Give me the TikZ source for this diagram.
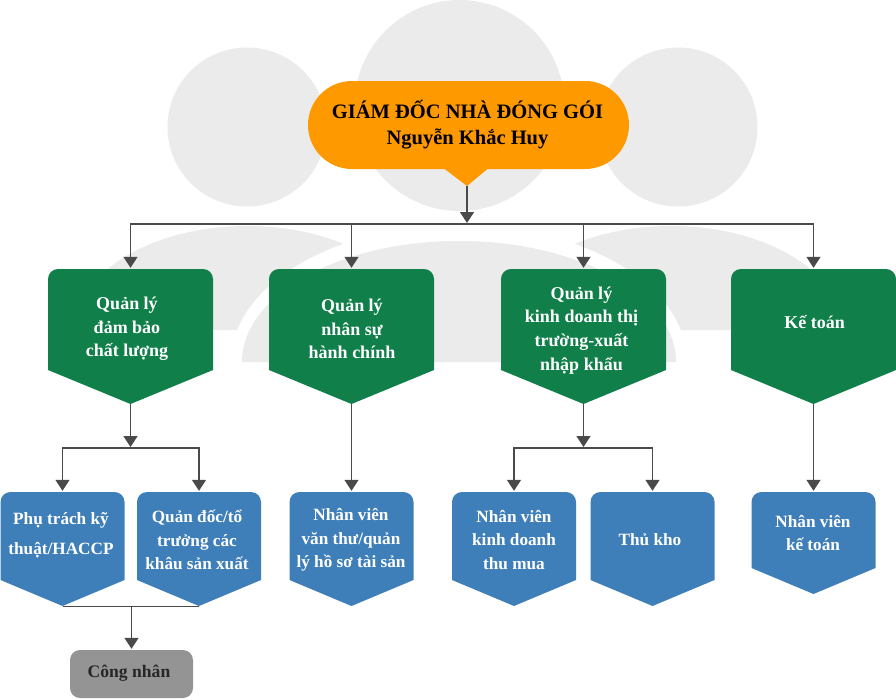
\documentclass[tikz,border=0pt]{standalone}
\usepackage{fontspec}
\setmainfont{Liberation Serif}
\usetikzlibrary{positioning, arrows.meta}

\definecolor{bossorange}{HTML}{FF9900}
\definecolor{deptgreen}{HTML}{107F4A}
\definecolor{staffblue}{HTML}{3F7FB9}
\definecolor{workergray}{HTML}{949494}
\definecolor{shadegray}{HTML}{EBEBEB}
\definecolor{linkgray}{HTML}{4A4A4A}

\tikzset{
    tag/.style n args={3}{rectangle, inner sep=0pt, minimum width=#2, minimum height=#3,
        path picture={
            \fill[#1, rounded corners=10pt]
            ([yshift=\shoulder]path picture bounding box.south west)
            -- (path picture bounding box.north west)
            -- (path picture bounding box.north east) [sharp corners]
            -- ([yshift=\shoulder]path picture bounding box.south east)
            -- (path picture bounding box.south) -- cycle;
        }},
    dept/.style={tag={deptgreen}{165pt}{135pt}},
    staff/.style={tag={staffblue}{124pt}{#1}},
    staff/.default=114pt,
    depttext/.style={align=center, text=white, font=\fontsize{18}{23.7}\selectfont\bfseries},
    stafftext/.style={align=center, text=white, font=\fontsize{17.2}{23.5}\selectfont\bfseries},
    link/.style={draw=linkgray, line width=1.4pt, -{Triangle[width=14pt,length=11pt]}, shorten >=1pt},
    bus/.style={draw=linkgray, line width=1.4pt},
}
\newcommand{\shoulder}{34pt}

\begin{document}
\begin{tikzpicture}[x=1pt,y=-1pt]
    \useasboundingbox (0,0) rectangle (896,699);

    % people in the background
    \fill[shadegray] (247,127) circle (79.5);
    \fill[shadegray] (678,127) circle (79.5);
    \fill[shadegray] (459.5,105.5) ellipse (105 and 105.5);
    \fill[shadegray] (75,330) arc (180:360:172 and 104) -- cycle;
    \fill[shadegray] (499,330) arc (180:360:172 and 104) -- cycle;
    \fill[white] (231,362) arc (180:360:228 and 137) -- cycle;
    \fill[shadegray] (242,362) arc (180:360:217 and 121) -- cycle;

    % top box
    \node[rectangle, inner sep=0pt, minimum width=321pt, minimum height=105pt,
        path picture={
            \fill[bossorange, rounded corners=44pt]
            (path picture bounding box.north west)
            -- (path picture bounding box.north east)
            -- ([yshift=17pt]path picture bounding box.south east)
            -- ([yshift=17pt]path picture bounding box.south west) -- cycle;
            \fill[bossorange] ([xshift=-24.5pt,yshift=17.5pt]path picture bounding box.south)
            -- ([xshift=-1.5pt]path picture bounding box.south)
            -- ([xshift=19.5pt,yshift=17.5pt]path picture bounding box.south) -- cycle;
        }] (boss) at (468.5,133.5) {};
    \node[align=center, font=\fontsize{20.5}{26}\selectfont\bfseries] (bosstext) at (467.5,124.5)
        {GIÁM ĐỐC NHÀ ĐÓNG GÓI\\Nguyễn Khắc Huy};

    % departments
    \node[dept] (quality) at (130.5,336.5) {};
    \node[dept] (hr) at (351.5,336.5) {};
    \node[dept] (sales) at (583.5,336.5) {};
    \node[dept] (account) at (813.5,336.5) {};
    \node[depttext] (qualitytext) at (127,329) {Quản lý\\đảm bảo\\chất lượng};
    \node[depttext] (hrtext) at (352,329) {Quản lý\\nhân sự\\hành chính};
    \node[depttext] (salestext) at (581.5,330.5) {Quản lý\\kinh doanh thị\\trường-xuất\\nhập khẩu};
    \node[depttext] (accounttext) at (814.5,322.5) {Kế toán};

    % staff
    \renewcommand{\shoulder}{26pt}
    \node[staff] (tech) at (62.5,549) {};
    \node[staff] (foreman) at (199,549) {};
    \node[staff] (clerk) at (351.5,549) {};
    \node[staff] (buyer) at (514,549) {};
    \node[staff] (store) at (652.5,549) {};
    \node[staff=102pt] (bookkeeper) at (813.5,543) {};
    \node[stafftext, font=\fontsize{17.2}{30}\selectfont\bfseries] (techtext) at (61,535) {Phụ trách kỹ\\thuật/HACCP};
    \node[stafftext] (foremantext) at (197,540) {Quản đốc/tổ\\trưởng các\\khâu sản xuất};
    \node[stafftext] (clerktext) at (351,540) {Nhân viên\\văn thư/quản\\lý hồ sơ tài sản};
    \node[stafftext] (buyertext) at (514,540) {Nhân viên\\kinh doanh\\thu mua};
    \node[stafftext] (storetext) at (650,539.5) {Thủ kho};
    \node[stafftext] (bookkeepertext) at (813,533) {Nhân viên\\kế toán};

    % workers
    \node[rectangle, rounded corners=10pt, fill=workergray, inner sep=0pt,
        minimum width=123pt, minimum height=48pt] (worker) at (131.5,674) {};
    \node[text=black!85, font=\fontsize{17.6}{20}\selectfont\bfseries] (workertext) at (129,673.5) {Công nhân};

    % junctions
    \coordinate (bosstip) at (467,186);
    \coordinate (topbus) at (467,224);
    \coordinate (qualityfork) at (130.5,448);
    \coordinate (salesfork) at (583.5,448);
    \coordinate (workerfork) at (131.5,606);

    \path
    (bosstip) edge[link] (topbus)
    (quality.south) edge[link] (qualityfork)
    (sales.south) edge[link] (salesfork)
    (hr.south) edge[link] (clerk.north)
    (account.south) edge[link] (bookkeeper.north)
    (workerfork) edge[link] (worker.north)
    ;
    \draw[bus] (quality.north |- topbus) -- (account.north |- topbus);
    \draw[bus] (tech.south) -- (foreman.south);
    \draw[link] (topbus) -| (quality.north);
    \draw[link] (topbus) -| (hr.north);
    \draw[link] (topbus) -| (sales.north);
    \draw[link] (topbus) -| (account.north);
    \draw[link] (qualityfork) -| (tech.north);
    \draw[link] (qualityfork) -| (foreman.north);
    \draw[link] (salesfork) -| (buyer.north);
    \draw[link] (salesfork) -| (store.north);
\end{tikzpicture}
\end{document}
